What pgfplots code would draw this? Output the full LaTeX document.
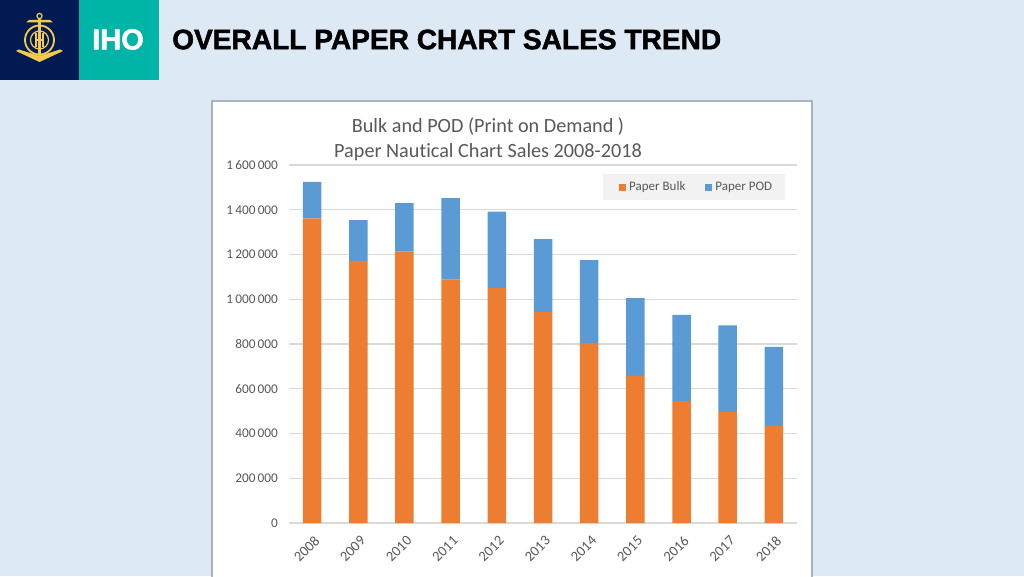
\documentclass[border=0pt]{standalone}
\usepackage{pgfplots}
\pgfplotsset{compat=1.18}
\usepackage{pgfplotstable}
\usepackage{fontspec}
\setmainfont[Ligatures=NoCommon]{Carlito}
\newfontfamily\hd{Liberation Sans}
\newfontfamily\hdheavy[BoldFeatures={FakeBold=1.6}]{Liberation Sans}
\definecolor{bg}{HTML}{DEE9F6}
\definecolor{navy}{HTML}{021A52}
\definecolor{teal}{HTML}{00B5A8}
\definecolor{gold}{HTML}{F4C94E}
\definecolor{txt}{HTML}{595959}
\definecolor{gridc}{HTML}{D9D9D9}
\definecolor{bulk}{HTML}{ED7D31}
\definecolor{pod}{HTML}{5B9BD5}
\definecolor{frame}{HTML}{A9B4BF}
\pgfplotstableread{
x bulk pod
0 1361000 164000
1 1171000 183000
2 1213000 217000
3 1088000 364000
4 1050000 342000
5 943000 326000
6 804000 371000
7 657000 348000
8 545000 385000
9 496000 387000
10 434000 353000
}\sales
\begin{document}
\begin{tikzpicture}[x=1pt,y=1pt]
\useasboundingbox (0,0) rectangle (1024,576);
\fill[bg] (0,0) rectangle (1024,576);
\fill[navy] (0,496) rectangle (79,576);
\fill[teal] (79,496) rectangle (159,576);
% emblem
\begin{scope}[gold]
\draw[line width=1.2pt] (39.5,560) circle (2.6);
\fill (26,553.5) -- (53,553.5) -- (50,556) -- (29,556) -- cycle;
\fill (38.3,516) rectangle (40.7,557);
\draw[line width=1.8pt] (39.5,536) circle (14.5);
\draw[line width=1.2pt] (39.5,536) circle (9);
\fill (16,525) -- (39.5,514) -- (63,525) -- (60,526.5) -- (39.5,520) -- (19,526.5) -- cycle;
\draw[line width=1.3pt] (36,543) -- (36,529) (43,543) -- (43,529) (36,536) -- (43,536);
\end{scope}
\node[text=white,font=\hdheavy\bfseries\fontsize{29}{29}\selectfont,inner sep=0,anchor=center] at (118,536.5) {IHO};
\node[text=black,font=\hdheavy\bfseries\fontsize{28.1}{28}\selectfont,inner sep=0,anchor=west] at (172,536.5) {OVERALL PAPER CHART SALES TREND};
% chart frame
\fill[white,draw=frame,line width=1.5pt] (212,-3) rectangle (812,475);
\begin{axis}[
  at={(289pt,53pt)},anchor=south west,
  scale only axis,width=508pt,height=358pt,
  xmin=-0.5,xmax=10.5,ymin=0,ymax=1600000,
  ybar stacked,bar width=18.5pt,
  axis line style={draw=none},
  major tick length=0pt,
  xtick={0,1,2,3,4,5,6,7,8,9,10},
  xticklabels={2008,2009,2010,2011,2012,2013,2014,2015,2016,2017,2018},
  x tick label style={rotate=45,anchor=north east,xshift=-4pt,yshift=-6pt,text=txt,font=\fontsize{14.5}{15}\selectfont},
  ytick={0,200000,400000,600000,800000,1000000,1200000,1400000,1600000},
  yticklabels={0,200\,000,400\,000,600\,000,800\,000,1\,000\,000,1\,200\,000,1\,400\,000,1\,600\,000},
  y tick label style={text=txt,font=\fontsize{13.3}{13}\selectfont,anchor=east,xshift=-7.5pt},
  ymajorgrids,
  grid style={gridc,line width=1.2pt},
  scaled y ticks=false,
  legend columns=2,
  legend style={at={(axis description cs:0.6181,0.9022)},anchor=south west,
    fill=gray!10,draw=none,inner xsep=11pt,inner ysep=5.5pt,
    text=txt,font=\fontsize{13}{13}\selectfont,
    /tikz/every even column/.append style={column sep=13pt}},
  legend image code/.code={\path (0pt,0pt) (13pt,0pt); \fill[#1] (5pt,-3.5pt) rectangle (12pt,3.5pt);},
]
\addplot[fill=bulk,draw=none] table[x=x,y=bulk]{\sales};
\addplot[fill=pod,draw=none] table[x=x,y=pod]{\sales};
\legend{Paper Bulk,Paper POD}
\end{axis}
\node[text=txt,font=\fontsize{20.2}{25}\selectfont,align=center,inner sep=0] at (488,437) {Bulk and POD (Print on Demand )\\Paper Nautical Chart Sales 2008-2018};
\end{tikzpicture}
\end{document}
